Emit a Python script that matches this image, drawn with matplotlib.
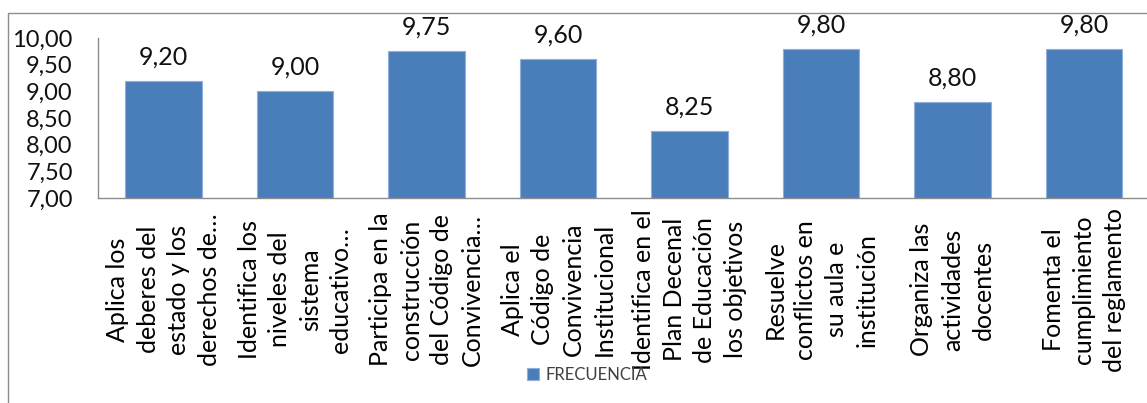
import matplotlib
matplotlib.use("Agg")
import matplotlib.pyplot as plt
from matplotlib.patches import Rectangle
from matplotlib.ticker import FuncFormatter

plt.rcParams['font.family'] = ['Lato', 'DejaVu Sans']

categories = [
    "Aplica los\ndeberes del\nestado y los\nderechos de…",
    "Identifica los\nniveles del\nsistema\neducativo…",
    "Participa en la\nconstrucción\ndel Código de\nConvivencia…",
    "Aplica el\nCódigo de\nConvivencia\nInstitucional",
    "Identifica en el\nPlan Decenal\nde Educación\nlos objetivos",
    "Resuelve\nconflictos en\nsu aula e\ninstitución",
    "Organiza las\nactividades\ndocentes",
    "Fomenta el\ncumplimiento\ndel reglamento",
]
frecuencia = [9.20, 9.00, 9.75, 9.60, 8.25, 9.80, 8.80, 9.80]
y_ticks = [7.0, 7.5, 8.0, 8.5, 9.0, 9.5, 10.0]

W, H = 1147, 403
fig = plt.figure(figsize=(W / 100, H / 100), dpi=100)

# chart-area border
fig.patches.append(Rectangle((8 / W, -0.2), 1.2, 1.2 - 13 / H,
                             transform=fig.transFigure, fill=False,
                             edgecolor='#8c8c8c', linewidth=1.0, zorder=0))

left, right = 97.75, 97.75 + 8 * 131.5
top, bottom = 38, 198
ax = fig.add_axes([left / W, 1 - bottom / H, (right - left) / W, (bottom - top) / H])

x = range(len(categories))
bars = ax.bar(x, frecuencia, width=0.58, bottom=0, color='#4a7ebb',
              edgecolor='#8fb0da', linewidth=0.8, label='FRECUENCIA')

ax.set_ylim(7.0, 10.0)
ax.set_xlim(-0.5, len(categories) - 0.5)
ax.set_yticks(y_ticks)
ax.yaxis.set_major_formatter(FuncFormatter(lambda v, p: f"{v:.2f}".replace('.', ',')))

for sp in ['top', 'right']:
    ax.spines[sp].set_visible(False)
for sp in ['left', 'bottom']:
    ax.spines[sp].set_color('#8c8c8c')
    ax.spines[sp].set_linewidth(1.0)

ax.tick_params(axis='y', length=0, pad=18, labelsize=17, labelcolor='#111111')
ax.set_xticks(list(x))
ax.set_xticklabels(categories, rotation=90, va='center', ha='center',
                   multialignment='center', linespacing=1.40)
ax.tick_params(axis='x', length=0, pad=66, labelsize=18, labelcolor='#000000')

for rect, v in zip(bars, frecuencia):
    ax.annotate(f"{v:.2f}".replace('.', ','),
                xy=(rect.get_x() + rect.get_width() / 2, v),
                xytext=(0, 9), textcoords='offset points',
                ha='center', va='bottom', fontsize=18, color='#111111')

leg = fig.legend(handles=[bars], labels=['FRECUENCIA'], loc='center',
                 bbox_to_anchor=(587 / W, 1 - 375 / H), frameon=False,
                 fontsize=12, handlelength=0.7, handleheight=0.7,
                 handletextpad=0.4, labelcolor='#404040')
leg.set_zorder(10)

fig.savefig('out.png', dpi=100)
